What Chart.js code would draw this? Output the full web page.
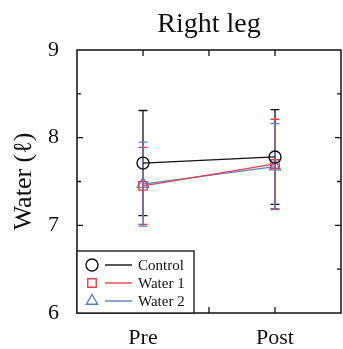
<!DOCTYPE html>
<html>
<head>
<meta charset="utf-8">
<script src="https://cdn.jsdelivr.net/npm/chart.js@4"></script>
<style>
  html, body { margin: 0; padding: 0; background: #fff; }
  #wrap { width: 343px; height: 349px; }
</style>
</head>
<body>
<div id="wrap"><canvas id="chart" width="343" height="349"></canvas></div>
<script>
// x positions on a 0..4 axis: Pre = 1, Post = 3
const phases = ['Pre', 'Post']
const phaseX = [1, 3]

const controlMean = [7.71, 7.78]
const controlErr = [0.60, 0.54]
const water1Mean = [7.45, 7.70]
const water1Err = [0.44, 0.51]
const water2Mean = [7.47, 7.67]
const water2Err = [0.48, 0.49]

const yTicks = [6, 7, 8, 9]
const chartTitle = 'Right leg'

const SERIF = '"Liberation Serif", "DejaVu Serif", serif'
const RED = '#e5414d'
const BLUE = '#5a80c6'

function points(means) {
  return means.map((v, i) => ({ x: phaseX[i], y: v }))
}

function series(label, means, errs, color, style) {
  return {
    label: label,
    data: points(means),
    errors: errs,
    borderColor: color,
    backgroundColor: 'rgba(255,255,255,0)',
    borderWidth: 1.3,
    pointStyle: style,
    pointRadius: style === 'triangle' ? 6.5 : 6,
    pointBorderWidth: 1.4,
    pointBorderColor: color,
    pointBackgroundColor: 'rgba(255,255,255,0)',
    tension: 0
  }
}

// error bars, inward ticks, frame, title and legend box
const decorations = {
  id: 'decorations',
  beforeDatasetsDraw(chart) {
    const { ctx, scales: { x, y } } = chart
    chart.data.datasets.forEach(ds => {
      ctx.save()
      ctx.strokeStyle = ds.borderColor
      ctx.lineWidth = 1.3
      ds.data.forEach((p, i) => {
        const px = x.getPixelForValue(p.x)
        const top = y.getPixelForValue(p.y + ds.errors[i])
        const bot = y.getPixelForValue(p.y - ds.errors[i])
        ctx.beginPath()
        ctx.moveTo(px, top); ctx.lineTo(px, bot)
        ctx.moveTo(px - 4.5, top); ctx.lineTo(px + 4.5, top)
        ctx.moveTo(px - 4.5, bot); ctx.lineTo(px + 4.5, bot)
        ctx.stroke()
      })
      ctx.restore()
    })
  },
  afterDraw(chart) {
    const { ctx, chartArea: a, scales: { x, y } } = chart
    ctx.save()

    ctx.fillStyle = '#111'
    ctx.font = '28px ' + SERIF
    ctx.textAlign = 'center'
    ctx.textBaseline = 'alphabetic'
    ctx.fillText(chartTitle, (a.left + a.right) / 2, 32)

    ctx.strokeStyle = '#111'
    ctx.lineWidth = 1.5
    ctx.strokeRect(a.left, a.top, a.right - a.left, a.bottom - a.top)

    ctx.lineWidth = 1.3
    ctx.beginPath()
    x.ticks.forEach(t => {
      const px = x.getPixelForValue(t.value)
      if (t.value <= x.min || t.value >= x.max) return
      ctx.moveTo(px, a.bottom); ctx.lineTo(px, a.bottom - 6)
      ctx.moveTo(px, a.top); ctx.lineTo(px, a.top + 6)
    })
    y.ticks.forEach(t => {
      const py = y.getPixelForValue(t.value)
      if (t.value <= y.min || t.value >= y.max) return
      const len = Number.isInteger(t.value) ? 6 : 4
      ctx.moveTo(a.left, py); ctx.lineTo(a.left + len, py)
      ctx.moveTo(a.right, py); ctx.lineTo(a.right - len, py)
    })
    ctx.stroke()

    // legend in the lower left corner of the plot
    const boxW = 117, boxH = 62
    const bx = a.left, by = a.bottom - boxH
    ctx.fillStyle = '#fff'
    ctx.fillRect(bx, by, boxW, boxH)
    ctx.strokeStyle = '#111'
    ctx.lineWidth = 1.3
    ctx.strokeRect(bx, by, boxW, boxH)
    ctx.font = '15px ' + SERIF
    ctx.textAlign = 'left'
    ctx.textBaseline = 'middle'
    chart.data.datasets.forEach((ds, i) => {
      const ry = by + 14 + i * 18
      ctx.strokeStyle = ds.borderColor
      ctx.fillStyle = 'rgba(255,255,255,0)'
      ctx.lineWidth = 1.4
      Chart.helpers.drawPoint(ctx, {
        pointStyle: ds.pointStyle,
        radius: ds.pointRadius,
        borderWidth: 1.4
      }, bx + 15, ry)
      ctx.beginPath()
      ctx.moveTo(bx + 28, ry); ctx.lineTo(bx + 55, ry)
      ctx.stroke()
      ctx.fillStyle = '#111'
      ctx.fillText(ds.label, bx + 61, ry + 1)
    })
    ctx.restore()
  }
}

new Chart(document.getElementById('chart'), {
  type: 'line',
  data: {
    datasets: [
      series('Control', controlMean, controlErr, '#111', 'circle'),
      series('Water 1', water1Mean, water1Err, RED, 'rect'),
      series('Water 2', water2Mean, water2Err, BLUE, 'triangle')
    ]
  },
  options: {
    responsive: false,
    animation: false,
    layout: { autoPadding: false, padding: { top: 50, right: 2, bottom: 0, left: 0 } },
    plugins: {
      legend: { display: false },
      tooltip: { enabled: false },
      title: { display: false }
    },
    scales: {
      x: {
        type: 'linear',
        min: 0,
        max: 4,
        grid: { display: false },
        border: { display: false },
        afterFit(scale) {
          scale.height = 36
          scale.paddingLeft = 0
          scale.paddingRight = 0
        },
        ticks: {
          stepSize: 1,
          autoSkip: false,
          maxRotation: 0,
          padding: 4,
          color: '#111',
          font: { family: SERIF, size: 22 },
          callback: v => {
            const i = phaseX.indexOf(v)
            return i >= 0 ? phases[i] : ''
          }
        }
      },
      y: {
        min: yTicks[0],
        max: yTicks[yTicks.length - 1],
        grid: { display: false },
        border: { display: false },
        afterFit(scale) {
          scale.width = 77
          scale.paddingTop = 0
          scale.paddingBottom = 0
        },
        title: {
          display: true,
          text: 'Water (ℓ)',
          color: '#111',
          font: { family: SERIF, size: 26 },
          padding: { top: 9, bottom: 0 }
        },
        ticks: {
          stepSize: 0.5,
          padding: 10,
          color: '#111',
          font: { family: SERIF, size: 22 },
          callback: v => yTicks.includes(v) ? String(v) : ''
        }
      }
    }
  },
  plugins: [decorations]
})
</script>
</body>
</html>
